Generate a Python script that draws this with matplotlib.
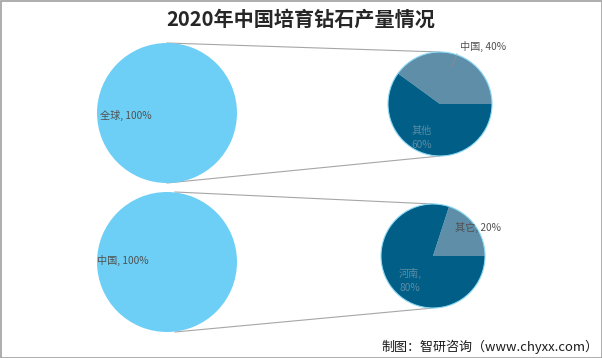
import matplotlib
matplotlib.use("Agg")
import matplotlib.pyplot as plt
from matplotlib.patches import Rectangle, Circle

plt.rcParams['font.family'] = ['Noto Sans CJK SC', 'DejaVu Sans']

title = "2020年中国培育钻石产量情况"
big_labels = ["全球, 100%", "中国, 100%"]
pie1_labels = ["中国", "其他"]
pie1_values = [40, 60]
pie2_labels = ["其它", "河南"]
pie2_values = [20, 80]
footer = "制图：智研咨询（www.chyxx.com）"

W, H = 602, 358
fig = plt.figure(figsize=(W / 100, H / 100), dpi=100)
ax = fig.add_axes([0, 0, 1, 1])

big_color = "#6DCFF6"
light = "#5F8FA8"
dark = "#005E87"
line_c = "#A6A6A6"

def Y(p):
    return H - p

# connector lines
ax.plot([167, 440], [Y(43), Y(52)], color=line_c, lw=0.8, zorder=1)
ax.plot([167, 440], [Y(183), Y(156)], color=line_c, lw=0.8, zorder=1)
ax.plot([175, 433], [Y(192), Y(204)], color=line_c, lw=0.8, zorder=1)
ax.plot([175, 433], [Y(332), Y(308)], color=line_c, lw=0.8, zorder=1)

# big circles (100%)
ax.pie([100], center=(167, Y(113)), radius=70, colors=[big_color],
       wedgeprops=dict(linewidth=0), startangle=90)
ax.pie([100], center=(167, Y(262)), radius=70, colors=[big_color],
       wedgeprops=dict(linewidth=0), startangle=90)

# small pies
for vals, c in ((pie1_values, (440, Y(104))), (pie2_values, (433, Y(256)))):
    ax.pie(vals, center=c, radius=52, colors=[light, dark],
           startangle=0, counterclock=True, wedgeprops=dict(linewidth=0))
    ax.add_patch(Circle(c, 52, fill=False, edgecolor="#8AD8F5", lw=0.8, zorder=3))

lab_c = "#505050"
fs = 7.3
ax.text(100, Y(115), big_labels[0], fontsize=fs, color=lab_c, va="center", ha="left")
ax.text(97, Y(260), big_labels[1], fontsize=fs, color=lab_c, va="center", ha="left")

ax.text(460, Y(46), f"{pie1_labels[0]}, {pie1_values[0]}%", fontsize=fs, color=lab_c,
        va="center", ha="left")
ax.plot([457, 452], [Y(54), Y(66)], color="#8C8C8C", lw=0.7)
ax.text(422, Y(138), f"{pie1_labels[1]}\n{pie1_values[1]}%", fontsize=fs, color="#5C8CA6",
        va="center", ha="center", linespacing=1.5)

ax.text(455, Y(227), f"{pie2_labels[0]}, {pie2_values[0]}%", fontsize=fs, color=lab_c,
        va="center", ha="left")
ax.text(410, Y(280), f"{pie2_labels[1]},\n{pie2_values[1]}%", fontsize=fs, color="#5C8CA6",
        va="center", ha="center", linespacing=1.5)

ax.text(301, Y(19), title, fontsize=14.5, fontweight="bold", color="#262626",
        ha="center", va="center")
ax.text(598, Y(347), footer, fontsize=9.4, color="#1A1A1A", ha="right", va="center")

ax.add_patch(Rectangle((0.5, 0.5), W - 1, H - 1, fill=False, edgecolor="#A0A0A0", lw=1.2))

ax.set_xlim(0, W)
ax.set_ylim(0, H)
ax.set_aspect("auto")
ax.axis("off")

fig.savefig("out.png", dpi=100)
